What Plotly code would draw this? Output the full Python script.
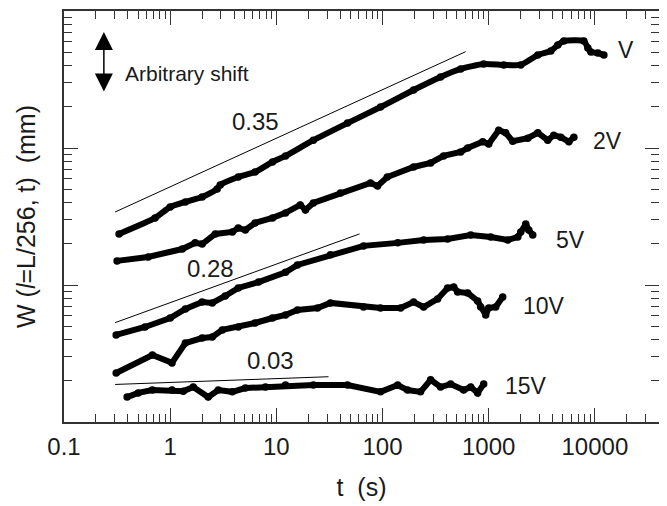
import math

import plotly.graph_objects as go

# series: t in s, W in arbitrary (shifted) units
t_v = [0.33, 0.72, 1.0, 1.39, 2.0, 2.77, 2.96, 4.38, 6.3, 9.2, 12.2, 22.3, 46.8,
       95.8, 196, 352, 545, 897, 1387, 2004, 2900, 3846, 4477, 5100, 7870, 8590,
       9170, 10670, 12160]
w_v = [0.236, 0.309, 0.371, 0.404, 0.439, 0.502, 0.537, 0.614, 0.668, 0.791, 0.875,
       1.14, 1.52, 1.99, 2.65, 3.30, 3.78, 4.10, 4.04, 4.04, 4.77, 5.11, 5.65, 6.04,
       6.04, 5.37, 5.02, 4.94, 4.77]

t_2v = [0.316, 0.62, 1.30, 1.72, 2.0, 2.66, 3.85, 4.38, 5.1, 6.3, 9.2, 12.2, 16.8,
        18.8, 22.3, 40.2, 77, 89.8, 111, 196, 284, 376, 545, 634, 878, 1000, 1243,
        1446, 1683, 2333, 2900, 3600, 4100, 4776, 5690, 6340]
w_2v = [0.150, 0.160, 0.183, 0.203, 0.199, 0.236, 0.244, 0.261, 0.252, 0.284, 0.309,
        0.336, 0.384, 0.353, 0.397, 0.470, 0.556, 0.528, 0.614, 0.727, 0.778, 0.875,
        0.935, 1.0, 1.11, 1.07, 1.35, 1.29, 1.12, 1.18, 1.29, 1.14, 1.24, 1.20, 1.11,
        1.20]

t_5v = [0.31, 0.58, 1.0, 1.39, 2.0, 2.49, 3.30, 4.38, 6.8, 12.2, 15.8, 32.3, 66.2,
        139, 244, 410, 677, 1044, 1510, 1879, 2004, 2234, 2384, 2600]
w_5v = [0.0432, 0.0494, 0.0574, 0.0668, 0.0752, 0.0740, 0.0832, 0.0951, 0.105,
        0.124, 0.140, 0.166, 0.193, 0.203, 0.213, 0.217, 0.232, 0.224, 0.213, 0.224,
        0.244, 0.279, 0.252, 0.232]

t_10v = [0.31, 0.68, 1.04, 1.39, 2.0, 2.49, 3.10, 4.38, 6.3, 9.2, 12.2, 15.8, 24.4,
         32.3, 66.2, 95.8, 148, 196, 244, 330, 410, 468, 510, 634, 787, 841, 937,
         1000, 1164, 1355]
w_10v = [0.0228, 0.0308, 0.0270, 0.0377, 0.0410, 0.0417, 0.0470, 0.0494, 0.0528,
         0.0574, 0.0604, 0.0657, 0.0680, 0.0740, 0.0691, 0.0680, 0.0680, 0.0752,
         0.0691, 0.0791, 0.0951, 0.0966, 0.0889, 0.0875, 0.0764, 0.0691, 0.0604,
         0.0680, 0.0691, 0.0817]

t_15v = [0.393, 0.50, 0.68, 1.04, 1.33, 1.65, 2.28, 2.84, 3.85, 5.1, 7.9, 12.2, 22.3,
         46.8, 95.8, 139, 172, 228, 284, 352, 438, 581, 677, 787, 897]
w_15v = [0.0152, 0.0163, 0.0171, 0.0171, 0.0168, 0.0180, 0.0152, 0.0171, 0.0166,
         0.0177, 0.0180, 0.0186, 0.0186, 0.0186, 0.0166, 0.0186, 0.0171, 0.0166,
         0.0203, 0.0180, 0.0189, 0.0171, 0.0180, 0.0163, 0.0189]

# power-law guide lines (slopes 0.35, 0.28, 0.03)
fit35_t, fit35_w = [0.303, 607], [0.341, 5.05]
fit28_t, fit28_w = [0.303, 60.7], [0.0531, 0.236]
fit03_t, fit03_w = [0.303, 31], [0.0188, 0.0214]

series_names = ["V", "2V", "5V", "10V", "15V"]
series_t = [t_v, t_2v, t_5v, t_10v, t_15v]
series_w = [w_v, w_2v, w_5v, w_10v, w_15v]

FONT = "Liberation Sans, Arial, sans-serif"
INK = "#1a1a1a"

fig = go.Figure()

for t, w in [(fit35_t, fit35_w), (fit28_t, fit28_w), (fit03_t, fit03_w)]:
    fig.add_trace(go.Scatter(x=t, y=w, mode="lines",
                             line=dict(color="black", width=1),
                             hoverinfo="skip"))

for name, t, w in zip(series_names, series_t, series_w):
    # the lowest-voltage run is a smooth curve, the others are jagged
    shape = "spline" if name == "V" else "linear"
    fig.add_trace(go.Scatter(x=t, y=w, mode="lines+markers", name=name,
                             line=dict(color="black", width=6, shape=shape,
                                       smoothing=0.6),
                             marker=dict(color="black", size=7.5)))


def lg(v):
    return math.log10(v)


annotations = []
# slope labels
for txt, t, w in [("0.35", 6.3, 1.55), ("0.28", 2.38, 0.133), ("0.03", 8.8, 0.0279)]:
    annotations.append(dict(x=lg(t), y=lg(w), text=txt, showarrow=False,
                            xref="x", yref="y", font=dict(size=24, color=INK)))
# series labels
for txt, t, w in [("V", 15800, 5.19), ("2V", 9170, 1.12), ("5V", 4100, 0.213),
                  ("10V", 2004, 0.0703), ("15V", 1355, 0.0183)]:
    annotations.append(dict(x=lg(t), y=lg(w), text=txt, showarrow=False,
                            xanchor="left", xref="x", yref="y",
                            font=dict(size=23, color=INK)))
# arbitrary shift marker
annotations.append(dict(x=0.067, y=0.949, xref="paper", yref="paper", text="",
                        showarrow=True, ax=0, ay=61, arrowside="end+start",
                        arrowhead=2, arrowsize=2.4, arrowwidth=1.5,
                        arrowcolor="black", standoff=0, startstandoff=0))
annotations.append(dict(x=0.099, y=0.881, xref="paper", yref="paper",
                        text="Arbitrary shift", showarrow=False, xanchor="left",
                        font=dict(size=21, color=INK)))

axis_common = dict(showline=True, linecolor="#333333", linewidth=1.5, mirror="allticks",
                   ticks="inside", ticklen=14, tickwidth=1.3, tickcolor="#333333",
                   showgrid=False, zeroline=False, dtick=1, automargin=False,
                   minor=dict(ticks="inside", ticklen=8, tickwidth=1.2,
                              tickcolor="#333333", dtick="D1", showgrid=False))

# the page body adds an 8px offset, so the figure is 8px smaller on each side
fig.update_layout(
    width=659, height=498,
    margin=dict(l=56, r=8, t=3, b=84),
    paper_bgcolor="white", plot_bgcolor="white",
    showlegend=False,
    font=dict(family=FONT, size=23, color=INK),
    xaxis=dict(type="log", range=[-1, 4.604],
               tickvals=[0.1, 1, 10, 100, 1000, 10000],
               ticktext=["0.1", "1", "10", "100", "1000", "10000"],
               tickfont=dict(size=24, color=INK), ticklabelstandoff=2,
               title=dict(text="t  (s)", font=dict(size=25, color=INK), standoff=20),
               **axis_common),
    yaxis=dict(type="log", range=[-2, 1], showticklabels=False,
               title=dict(text="W (<i>l</i>=L/256, t)  (mm)",
                          font=dict(size=25, color=INK), standoff=20),
               **axis_common),
    annotations=annotations,
)

fig.write_html("out.html")
